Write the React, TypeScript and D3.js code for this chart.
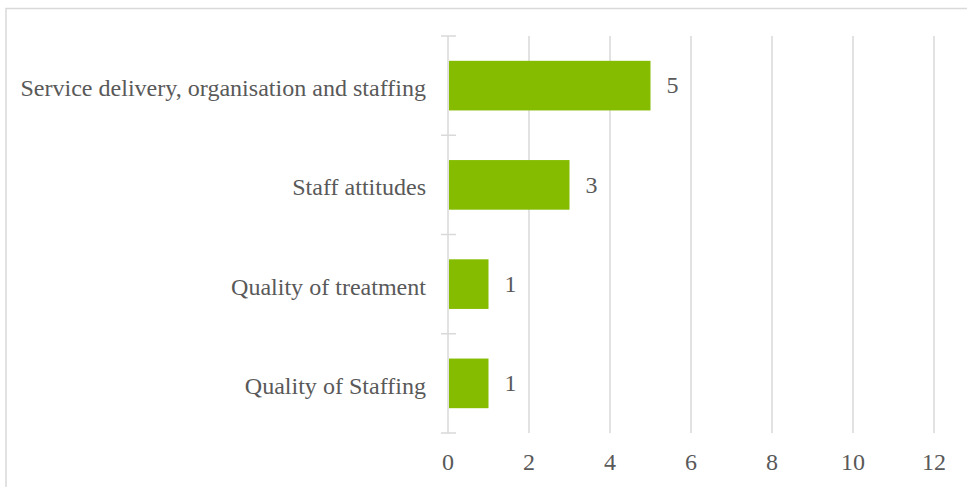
import React from "react";
import * as d3 from "d3";

const categories = [
  "Service delivery, organisation and staffing",
  "Staff attitudes",
  "Quality of treatment",
  "Quality of Staffing",
];
const values = [5, 3, 1, 1];
const xTicks = [0, 2, 4, 6, 8, 10, 12];

const W = 967;
const H = 487;
const FONT = '"Liberation Serif", "Times New Roman", serif';
const TEXT = "#595959";
const GRID = "#d9d9d9";
const BAR = "#85bc00";

export default function App() {
  const x = d3.scaleLinear().domain([0, 12]).range([448, 934]);
  const y = d3
    .scaleBand<string>()
    .domain(categories)
    .range([36, 433])
    .paddingInner(0.5)
    .paddingOuter(0.25);
  const step = y.step();
  const boundaries = d3.range(categories.length + 1).map((i) => 36 + i * step);

  return (
    <svg
      width={W}
      height={H}
      style={{ position: "absolute", left: 0, top: 0, background: "#fff" }}
    >
      <rect x={0} y={0} width={W} height={H} fill="#fff" />
      <rect
        x={6}
        y={8.5}
        width={1000}
        height={600}
        fill="none"
        stroke={GRID}
        strokeWidth={1.5}
      />
      {xTicks.slice(1).map((t) => (
        <line
          key={"g" + t}
          x1={x(t)}
          x2={x(t)}
          y1={36}
          y2={433}
          stroke={GRID}
          strokeWidth={1.5}
        />
      ))}
      <line x1={x(0)} x2={x(0)} y1={36} y2={433} stroke={GRID} strokeWidth={1.5} />
      {boundaries.map((b, i) => (
        <line
          key={"t" + i}
          x1={441}
          x2={456}
          y1={b}
          y2={b}
          stroke={GRID}
          strokeWidth={1.5}
        />
      ))}
      {categories.map((c, i) => {
        const yy = y(c)!;
        const bw = y.bandwidth();
        const cy = yy + bw / 2;
        return (
          <g key={c}>
            <rect
              x={x(0) + 1}
              y={yy}
              width={x(values[i]) - x(0) - 1}
              height={bw}
              fill={BAR}
            />
            <text
              x={426}
              y={cy + 10.5}
              textAnchor="end"
              fontFamily={FONT}
              fontSize={24.05}
              fill={TEXT}
            >
              {c}
            </text>
            <text
              x={x(values[i]) + 16}
              y={cy + 7.8}
              fontFamily={FONT}
              fontSize={24}
              fill={TEXT}
            >
              {values[i]}
            </text>
          </g>
        );
      })}
      {xTicks.map((t) => (
        <text
          key={"l" + t}
          x={x(t)}
          y={470}
          textAnchor="middle"
          fontFamily={FONT}
          fontSize={24}
          fill={TEXT}
        >
          {t}
        </text>
      ))}
    </svg>
  );
}
